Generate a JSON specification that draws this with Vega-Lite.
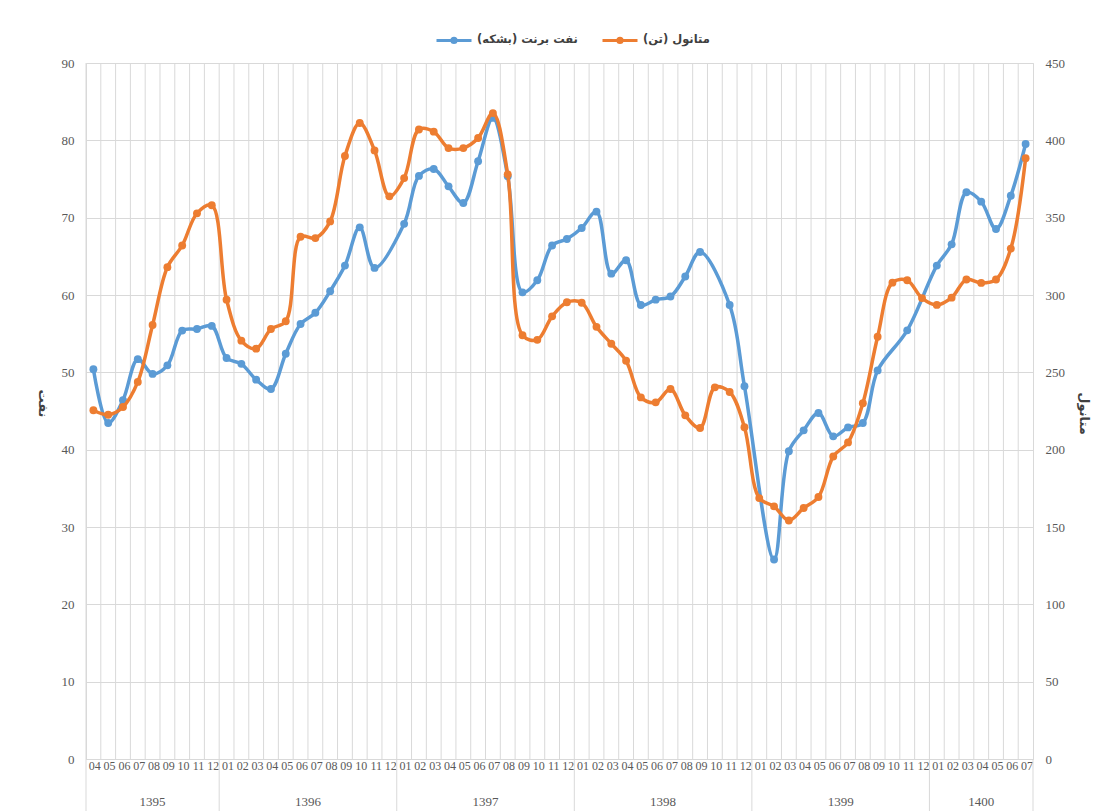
{
  "$schema": "https://vega.github.io/schema/vega-lite/v6.json",
  "width": 947,
  "height": 696,
  "autosize": {"type": "none"},
  "padding": {"left": 86, "top": 63, "right": 73, "bottom": 52},
  "background": "white",
  "config": {"view": {"stroke": "#d9d9d9"}},
  "datasets": {
    "main": [
      {"ym": "1395-04", "brent": 50.4, "meth": 225.5},
      {"ym": "1395-05", "brent": 43.45, "meth": 222.6},
      {"ym": "1395-06", "brent": 46.4, "meth": 227.6},
      {"ym": "1395-07", "brent": 51.7, "meth": 243.8},
      {"ym": "1395-08", "brent": 49.8, "meth": 280.6},
      {"ym": "1395-09", "brent": 50.9, "meth": 318},
      {"ym": "1395-10", "brent": 55.4, "meth": 332},
      {"ym": "1395-11", "brent": 55.6, "meth": 352.8},
      {"ym": "1395-12", "brent": 56.0, "meth": 358},
      {"ym": "1396-01", "brent": 51.85, "meth": 297},
      {"ym": "1396-02", "brent": 51.1, "meth": 270.5},
      {"ym": "1396-03", "brent": 49.05, "meth": 265.3},
      {"ym": "1396-04", "brent": 47.84, "meth": 278},
      {"ym": "1396-05", "brent": 52.4, "meth": 283},
      {"ym": "1396-06", "brent": 56.25, "meth": 337.7},
      {"ym": "1396-07", "brent": 57.7, "meth": 336.8},
      {"ym": "1396-08", "brent": 60.5, "meth": 347.6},
      {"ym": "1396-09", "brent": 63.8, "meth": 389.9},
      {"ym": "1396-10", "brent": 68.75, "meth": 411.2},
      {"ym": "1396-11", "brent": 63.5, "meth": 393.5},
      {"ym": "1396-12", "meth": 363.8},
      {"ym": "1397-01", "brent": 69.2, "meth": 375.6},
      {"ym": "1397-02", "brent": 75.4, "meth": 407},
      {"ym": "1397-03", "brent": 76.3, "meth": 405.6},
      {"ym": "1397-04", "brent": 74.05, "meth": 395},
      {"ym": "1397-05", "brent": 71.9, "meth": 395},
      {"ym": "1397-06", "brent": 77.3, "meth": 401.5},
      {"ym": "1397-07", "brent": 82.9, "meth": 417.6},
      {"ym": "1397-08", "brent": 75.35, "meth": 378},
      {"ym": "1397-09", "brent": 60.34, "meth": 274},
      {"ym": "1397-10", "brent": 61.9, "meth": 271},
      {"ym": "1397-11", "brent": 66.4, "meth": 286.2},
      {"ym": "1397-12", "brent": 67.24, "meth": 295.3},
      {"ym": "1398-01", "brent": 68.66, "meth": 295},
      {"ym": "1398-02", "brent": 70.78, "meth": 279.4},
      {"ym": "1398-03", "brent": 62.76, "meth": 268.5},
      {"ym": "1398-04", "brent": 64.5, "meth": 257.5},
      {"ym": "1398-05", "brent": 58.7, "meth": 233.8},
      {"ym": "1398-06", "brent": 59.4, "meth": 230.6},
      {"ym": "1398-07", "brent": 59.8, "meth": 239.2},
      {"ym": "1398-08", "brent": 62.4, "meth": 222.2},
      {"ym": "1398-09", "brent": 65.56, "meth": 214},
      {"ym": "1398-10", "meth": 240.3},
      {"ym": "1398-11", "brent": 58.7, "meth": 237.3},
      {"ym": "1398-12", "brent": 48.2, "meth": 214.5},
      {"ym": "1399-01", "meth": 168.7},
      {"ym": "1399-02", "brent": 25.8, "meth": 163.3},
      {"ym": "1399-03", "brent": 39.8, "meth": 154.2},
      {"ym": "1399-04", "brent": 42.5, "meth": 162.3},
      {"ym": "1399-05", "brent": 44.74, "meth": 169.4},
      {"ym": "1399-06", "brent": 41.72, "meth": 195.6},
      {"ym": "1399-07", "brent": 42.88, "meth": 204.7},
      {"ym": "1399-08", "brent": 43.45, "meth": 230},
      {"ym": "1399-09", "brent": 50.25, "meth": 273},
      {"ym": "1399-10", "meth": 308},
      {"ym": "1399-11", "brent": 55.43, "meth": 309.5},
      {"ym": "1399-12", "meth": 298},
      {"ym": "1400-01", "brent": 63.8, "meth": 293.6},
      {"ym": "1400-02", "brent": 66.55, "meth": 298.3},
      {"ym": "1400-03", "brent": 73.28, "meth": 310},
      {"ym": "1400-04", "brent": 72.07, "meth": 307.8},
      {"ym": "1400-05", "brent": 68.53, "meth": 310},
      {"ym": "1400-06", "brent": 72.84, "meth": 330},
      {"ym": "1400-07", "brent": 79.53, "meth": 388.4}
    ],
    "yearStarts": [
      {"ym": "1395-04"}, {"ym": "1396-01"}, {"ym": "1397-01"},
      {"ym": "1398-01"}, {"ym": "1399-01"}, {"ym": "1400-01"}
    ],
    "yearEnd": [{"ym": "1400-07"}],
    "yearMidOdd": [
      {"ym": "1395-08", "year": "1395"}, {"ym": "1400-04", "year": "1400"}
    ],
    "yearMidEven": [
      {"ym": "1396-07", "year": "1396"}, {"ym": "1397-07", "year": "1397"},
      {"ym": "1398-07", "year": "1398"}, {"ym": "1399-07", "year": "1399"}
    ]
  },
  "layer": [
    {
      "layer": [
        {
          "data": {"name": "main"},
          "mark": {"type": "rule", "color": "#d9d9d9", "strokeWidth": 1},
          "encoding": {
            "x": {"field": "ym", "type": "ordinal", "bandPosition": 0}
          }
        },
        {
          "data": {"name": "yearStarts"},
          "mark": {"type": "rule", "color": "#d9d9d9", "strokeWidth": 1},
          "encoding": {
            "x": {"field": "ym", "type": "ordinal", "bandPosition": 0},
            "y": {"datum": 0, "type": "quantitative", "scale": {"domain": [0, 90], "nice": false}, "axis": null},
            "y2": {"datum": -6.9}
          }
        },
        {
          "data": {"name": "yearEnd"},
          "mark": {"type": "rule", "color": "#d9d9d9", "strokeWidth": 1},
          "encoding": {
            "x": {"field": "ym", "type": "ordinal", "bandPosition": 1},
            "y": {"datum": 0, "type": "quantitative", "scale": {"domain": [0, 90], "nice": false}, "axis": null},
            "y2": {"datum": -6.9}
          }
        },
        {
          "data": {"name": "yearMidOdd"},
          "mark": {"type": "text", "font": "Liberation Serif", "fontSize": 13, "color": "#595959", "baseline": "middle", "align": "center"},
          "encoding": {
            "x": {"field": "ym", "type": "ordinal", "bandPosition": 0.5},
            "y": {"datum": -5.5, "type": "quantitative", "scale": {"domain": [0, 90], "nice": false}, "axis": null},
            "text": {"field": "year"}
          }
        },
        {
          "data": {"name": "yearMidEven"},
          "mark": {"type": "text", "font": "Liberation Serif", "fontSize": 13, "color": "#595959", "baseline": "middle", "align": "center"},
          "encoding": {
            "x": {"field": "ym", "type": "ordinal", "bandPosition": 0},
            "y": {"datum": -5.5, "type": "quantitative", "scale": {"domain": [0, 90], "nice": false}, "axis": null},
            "text": {"field": "year"}
          }
        }
      ]
    },
    {
      "data": {"name": "main"},
      "transform": [{"filter": "isValid(datum.brent)"}],
      "mark": {"type": "line", "interpolate": "catmull-rom", "strokeWidth": 3.5, "point": {"filled": true, "size": 62}},
      "encoding": {
        "x": {
          "field": "ym", "type": "ordinal",
          "scale": {"paddingInner": 0, "paddingOuter": 0},
          "axis": {
            "title": null, "labelExpr": "slice(datum.value, 5)", "labelAngle": 0, "labelOffset": 7.4,
            "labelFont": "Liberation Serif", "labelFontSize": 12, "labelColor": "#595959",
            "labelPadding": 6, "ticks": false, "grid": false, "domainColor": "#d9d9d9"
          }
        },
        "y": {
          "field": "brent", "type": "quantitative",
          "scale": {"domain": [0, 90], "nice": false},
          "axis": {
            "orient": "left", "values": [0, 10, 20, 30, 40, 50, 60, 70, 80, 90],
            "title": "نفت", "titleAngle": 90, "titleFont": "DejaVu Sans", "titleFontSize": 13,
            "titleFontWeight": "bold", "titleColor": "#404040", "titleX": -44, "titleY": 340,
            "titleBaseline": "middle", "titleAlign": "center",
            "labelFont": "Liberation Serif", "labelFontSize": 13, "labelColor": "#595959",
            "labelPadding": 12, "ticks": false, "domain": false, "grid": true, "gridColor": "#d9d9d9"
          }
        },
        "color": {
          "datum": "نفت برنت (بشکه)", "type": "nominal",
          "scale": {"domain": ["نفت برنت (بشکه)", "متانول (تن)"], "range": ["#5B9BD5", "#ED7D31"]},
          "legend": {
            "orient": "none", "legendX": 349, "legendY": -42, "direction": "horizontal", "title": null,
            "symbolType": "M-1,0L1,0M-0.12,0A0.12,0.12 0 1,0 0.12,0A0.12,0.12 0 1,0 -0.12,0",
            "symbolSize": 1225, "symbolStrokeWidth": 3,
            "labelFont": "DejaVu Sans", "labelFontWeight": "bold", "labelFontSize": 11.5,
            "labelColor": "#404040", "columnPadding": 18, "labelOffset": 4
          }
        }
      }
    },
    {
      "data": {"name": "main"},
      "mark": {"type": "line", "interpolate": "catmull-rom", "strokeWidth": 3.5, "point": {"filled": true, "size": 62}},
      "encoding": {
        "x": {"field": "ym", "type": "ordinal"},
        "y": {
          "field": "meth", "type": "quantitative",
          "scale": {"domain": [0, 450], "nice": false},
          "axis": {
            "orient": "right", "values": [0, 50, 100, 150, 200, 250, 300, 350, 400, 450],
            "title": "متانول", "titleAngle": 90, "titleFont": "DejaVu Sans", "titleFontSize": 13,
            "titleFontWeight": "bold", "titleColor": "#404040", "titleX": 50, "titleY": 350,
            "titleBaseline": "middle", "titleAlign": "center",
            "labelFont": "Liberation Serif", "labelFontSize": 13, "labelColor": "#595959",
            "labelPadding": 12, "ticks": false, "domain": false, "grid": false
          }
        },
        "color": {"datum": "متانول (تن)", "type": "nominal"}
      }
    }
  ],
  "resolve": {"scale": {"y": "independent"}}
}
